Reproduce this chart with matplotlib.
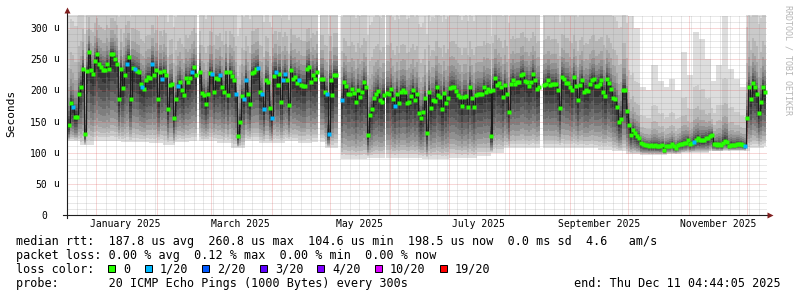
#!/usr/bin/env python3
"""SmokePing style yearly latency chart (median rtt + smoke)"""

import numpy as np
import pandas as pd
import matplotlib
matplotlib.use('Agg')
import matplotlib.pyplot as plt
import matplotlib.transforms as mtransforms
from matplotlib.patches import Rectangle

plt.rcParams['font.family'] = 'DejaVu Sans Mono'

# ---- data: median rtt per day in microseconds, None = no data ----
seg_a_range = ('2024-12-18', '2025-03-30')
median_a = [145, 180, 173, 158, 158, 194, 206, 234, 130, 231,
            261, 232, 226, 247, 258, 242, 238, 233, 232, 243,
            235, 258, 258, 251, 243, 186, 234, 204, 225, 242,
            253, 186, 236, 234, 231, 229, 210, 206, 202, 217,
            221, 220, 242, 224, 232, 186, 229, 218, 231, 225,
            170, 209, 210, 155, 186, 207, 214, 200, 193, 220,
            214, 220, 230, 237, 225, None, 229, 196, 193, 178,
            195, 228, 227, 198, 220, 218, 224, 205, 198, 230,
            193, 229, 223, 216, 194, 126, 149, 191, 186, 217,
            195, 178, 228, 230, 234, 236, 197, 194, 170, 217,
            214]
loss_a = ("0010000000 0000000000 0000000001 0001000100 0010000100 "
          "0000010000 0010000000 0010001000 0000100011 0000010110 0")

seg_b_range = ('2025-03-31', '2025-08-17')
median_b = [171, 155, 223, 230, 209, 227, 181, 216, 226, 217,
            177, 233, 219, 221, 212, 216, 209, 207, 207, 234,
            237, 214, 225, 219, 230, None, 219, 219, 198, 195,
            130, 217, 193, 225, 224, None, None, 184, 213, 207,
            194, 194, 203, 196, 181, 201, 190, 197, 213, 205,
            128, 161, 170, 187, 194, 199, 185, 182, 193, None,
            196, 195, 202, 186, 175, 195, 179, 197, 200, 198,
            179, 182, 191, 200, 185, 194, 164, 155, 165, 188,
            132, 197, 172, 185, 183, 206, 192, 189, 170, 196,
            179, 187, 204, 206, 205, 199, 193, 189, 175, 190,
            191, 174, 205, 188, 173, 193, 195, 194, 194, 205,
            198, 202, 199, 126, 201, 220, 208, 212, 205, 190,
            209, 194, 165, 210, 217, 210, 213, 213, 224, 226,
            215, 214, 207, 214, 226, 217, 202, 205, None]
loss_b = ("0101000110 0000010000 0000000001 1000000100 0000000000 "
          "0000000000 0000100000 0000000000 0000000000 0000000000 "
          "0000000000 0000000000 0000000000 000000000")

seg_c_range = ('2025-08-19', '2025-12-10')
median_c = [209, 210, 217, 209, 210, 210, 211, 201, 171, 222,
            219, 212, 212, 205, 201, 221, 207, 184, 209, 216,
            197, 201, 199, 210, 217, 219, 207, 207, 210, 216,
            198, 191, 219, 212, 202, 188, 186, 173, 150, 154,
            201, 201, 167, 144, 129, 136, 131, 126, 123, 115,
            114, 112, 112, 111, 112, 111, 112, 111, 111, 110,
            112, 104, 110, 111, 111, 114, 110, 108, 112, 114,
            114, 115, 116, 120, 114, 116, 117, 120, 123, 120,
            121, 121, 124, 123, 126, 129, 114, 114, 112, 114,
            112, 116, 119, 117, 111, 113, 112, 113, 114, 114,
            114, 112, 111, 155, 205, 186, 212, 206, 194, 164,
            182, 205, 198]
loss_c = ("0000000000 0000000000 0000000000 0000000000 0000000000 "
          "0000000000 0000000000 0000001000 0000000000 0000000000 "
          "0010000000 000")

# smoke extent per week (lowest / highest ping, us), weeks from 2024-12-17
smoke_week_start = '2024-12-17'
smoke_lo = [118, 112, 118, 118, 117, 117, 116, 113, 117, 118,
            118, 116, 108, 118, 116, 116, 118, 115, 117, 108,
            90, 90, 92, 92, 92, 92, 90, 90, 92, 92,
            95, 100, 107, 107, 108, 108, 108, 108, 107, 105,
            102, 98, 97, 97, 98, 100, 100, 102, 103, 103,
            108, 110]
smoke_hi = [450] * 52
# autumn: highest ping in 3-day steps from 2025-09-28
smoke_hi_autumn_start = '2025-09-28'
smoke_hi_autumn = [450, 320, 300, 205, 200, 240, 215, 205, 218, 200, 262,
                   225, 294, 282, 250, 215, 240, 320, 234, 218, 205, 450]

y_ticks = [0, 50, 100, 150, 200, 250, 300]
y_units = ['', 'u', 'u', 'u', 'u', 'u', 'u']
x_label_dates = ['2025-01-16', '2025-03-16', '2025-05-16',
                 '2025-07-16', '2025-09-16', '2025-11-16']
x_labels = ['January 2025', 'March 2025', 'May 2025',
            'July 2025', 'September 2025', 'November 2025']

loss_names = ['0', '1/20', '2/20', '3/20', '4/20', '10/20', '19/20']
loss_colors = ['#26ff00', '#00b8ff', '#0059ff', '#5e00ff', '#7e00ff', '#dd00ff', '#ff0000']

stats_line = "median rtt:  187.8 us avg  260.8 us max  104.6 us min  198.5 us now  0.0 ms sd  4.6   am/s"
loss_line = "packet loss: 0.00 % avg  0.12 % max  0.00 % min  0.00 % now"
probe_line = "probe:       20 ICMP Echo Pings (1000 Bytes) every 300s"
end_line = "end: Thu Dec 11 04:44:05 2025"

# smoke shading (outer -> inner) and how far each layer reaches
smoke_grays = ['#dddddd', '#cacaca', '#b7b7b7', '#a4a4a4', '#919191',
               '#7e7e7e', '#6b6b6b', '#585858', '#454545', '#323232']
frac_lo = [1.0, 0.94, 0.88, 0.81, 0.73, 0.64, 0.54, 0.43, 0.31, 0.17]
frac_hi = [1.0, 0.50, 0.30, 0.20, 0.14, 0.10, 0.07, 0.045, 0.028, 0.012]


def segment(rng, vals, loss):
    idx = pd.date_range(rng[0], rng[1], periods=len(vals))
    flags = [int(c) for c in loss.replace(' ', '')]
    med = [np.nan if v is None else v for v in vals]
    return pd.DataFrame({'med': med, 'loss': flags}, index=idx)


df = pd.concat([segment(seg_a_range, median_a, loss_a),
                segment(seg_b_range, median_b, loss_b),
                segment(seg_c_range, median_c, loss_c)])

week = ((df.index - pd.Timestamp(smoke_week_start)).days // 7).to_numpy()
week = np.clip(week, 0, len(smoke_lo) - 1)
med = df['med'].to_numpy(dtype=float)
lo = np.minimum(np.array(smoke_lo, dtype=float)[week], med - 4)
hi = np.array(smoke_hi, dtype=float)[week]
aut = ((df.index - pd.Timestamp(smoke_hi_autumn_start)).days // 3).to_numpy()
in_aut = (aut >= 0) & (aut < len(smoke_hi_autumn))
hi[in_aut] = np.array(smoke_hi_autumn, dtype=float)[aut[in_aut]]

# ---- figure ----
W, H = 797, 297
fig = plt.figure(figsize=(W / 100, H / 100), dpi=100, facecolor='white')
ax = fig.add_axes([67 / W, 82 / H, 700 / W, 200 / H])
ax.set_facecolor('white')
px = mtransforms.Affine2D().scale(1 / W, -1 / H).translate(0, 1) + fig.transFigure

# smoke
for g, fl, fu in zip(smoke_grays, frac_lo, frac_hi):
    bot = med - fl * (med - lo)
    top = med + fu * (hi - med)
    ax.bar(df.index, top - bot, bottom=bot, width=1.15, color=g,
           linewidth=0, zorder=1)

# grid (rrdtool style dotted lines)
minor_c = (0.56, 0.56, 0.56, 0.4)
major_c = (0.87, 0.31, 0.31, 0.45)
dots = (0, (1, 1))
for v in range(10, 330, 10):
    ax.axhline(v, color=major_c if v % 50 == 0 else minor_c, lw=0.72,
               linestyle=dots, zorder=3)
months = pd.date_range('2025-01-01', '2025-12-01', freq='MS')
for d in pd.date_range('2024-12-22', '2025-12-11', freq='5D'):
    if d not in months:
        ax.axvline(d, color=minor_c, lw=0.72, linestyle=dots, zorder=3)
for d in months:
    ax.axvline(d, color=major_c, lw=0.72, linestyle=dots, zorder=3)

# median
ax.step(df.index, med, where='mid', color='#1c1c1c', lw=0.75, zorder=6)
for k in range(2):
    sel = (df['loss'] == k).to_numpy()
    ax.plot(df.index[sel], med[sel], 's', ms=2.2, color=loss_colors[k],
            mec='none', zorder=7)

ax.set_xlim(pd.Timestamp('2024-12-17'), pd.Timestamp('2025-12-11 04:44'))
ax.set_ylim(0, 321)

for s in ax.spines.values():
    s.set_visible(False)
ax.set_xticks(pd.to_datetime(x_label_dates))
ax.set_xticklabels(x_labels, fontsize=7)
ax.set_yticks(y_ticks)
ax.set_yticklabels([str(v) for v in y_ticks], fontsize=7)
ax.tick_params(axis='x', length=0, pad=3)
ax.tick_params(axis='y', length=0, pad=14)
for v, u in zip(y_ticks, y_units):
    if u:
        ax.text(-8 / 700, v, u, transform=ax.get_yaxis_transform(),
                ha='right', va='center', fontsize=7)

# axes lines and arrows
axis_c = '#1f1f1f'
ax.plot([0, 0], [-0.015, 1.02], transform=ax.transAxes, color=axis_c,
        lw=0.8, clip_on=False, zorder=8)
ax.plot([-0.006, 1.004], [0, 0], transform=ax.transAxes, color=axis_c,
        lw=0.8, clip_on=False, zorder=8)
ax.plot([0], [1.026], transform=ax.transAxes, marker='^', ms=4.5,
        color='#801f1f', mec='none', clip_on=False, zorder=9)
ax.plot([1.005], [0], transform=ax.transAxes, marker='>', ms=4.5,
        color='#801f1f', mec='none', clip_on=False, zorder=9)

fig.text(11, 113, 'Seconds', transform=px, rotation=90, ha='center',
         va='center', fontsize=8)
fig.text(788, 5, 'RRDTOOL / TOBI OETIKER', transform=px, rotation=270,
         ha='center', va='top', fontsize=6, color='#b5b5b5')

# legend block
fs = 8.5
cw = 7.1
fig.text(16, 245, stats_line, transform=px, fontsize=fs, va='baseline')
fig.text(16, 259, loss_line, transform=px, fontsize=fs, va='baseline')
fig.text(16, 273, 'loss color:', transform=px, fontsize=fs, va='baseline')
fig.text(16, 287, probe_line, transform=px, fontsize=fs, va='baseline')
fig.text(781, 287, end_line, transform=px, fontsize=fs, va='baseline', ha='right')

x = 16 + 13 * cw
for name, col in zip(loss_names, loss_colors):
    fig.patches.append(Rectangle((x, 265), 7, 7, transform=px, facecolor=col,
                                 edgecolor='black', lw=0.72))
    fig.text(x + 15, 273, name, transform=px, fontsize=fs, va='baseline')
    x += 15 + len(name) * cw + 2 * cw

fig.savefig('out.png', dpi=100, facecolor='white')
